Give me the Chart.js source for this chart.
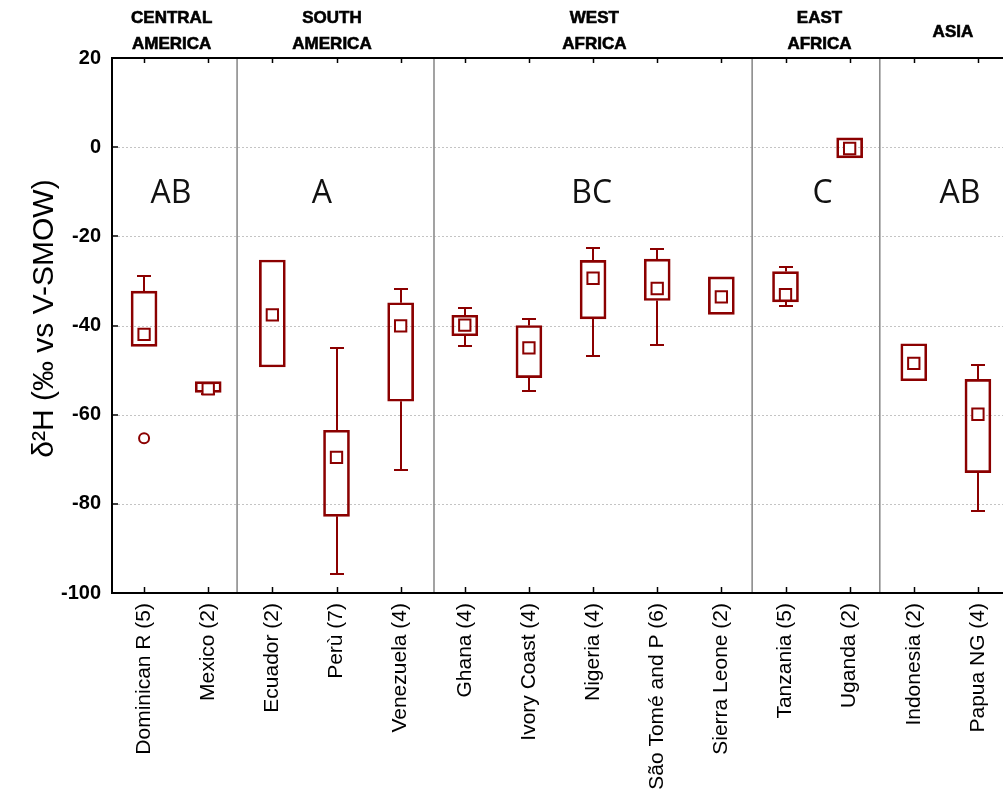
<!DOCTYPE html>
<html><head><meta charset="utf-8">
<script src="https://cdn.jsdelivr.net/npm/chart.js@4/dist/chart.umd.min.js"></script>
<style>html,body{margin:0;padding:0;background:#fff;overflow:hidden}#wrap{width:1022px;height:803px}</style>
</head><body><div id="wrap"><canvas id="c" width="1022" height="803"></canvas></div>
<script>
// ---- data ----
const categories = ['Dominican R (5)','Mexico (2)','Ecuador (2)','Perù (7)','Venezuela (4)','Ghana (4)','Ivory Coast (4)','Nigeria (4)','São Tomé and P (6)','Sierra Leone (2)','Tanzania (5)','Uganda (2)','Indonesia (2)','Papua NG (4)'];
const whiskerHigh = [-29.0, -52.6, -25.3, -45.1, -31.9, -36.1, -38.6, -22.6, -22.9, -29.1, -26.9, 2.1, -44.1, -48.9];
const q3          = [-32.3, -52.6, -25.3, -63.5, -34.9, -37.7, -40.0, -25.4, -25.1, -29.1, -27.9, 2.1, -44.1, -52.1];
const median      = [-42.0, -54.2, -37.6, -69.6, -40.1, -39.9, -45.0, -29.4, -31.7, -33.6, -33.1, -0.3, -48.5, -59.9];
const q1          = [-44.7, -55.0, -49.3, -82.8, -57.0, -42.3, -51.7, -38.5, -34.4, -37.5, -34.7, -2.4, -52.4, -73.0];
const whiskerLow  = [-44.7, -55.3, -49.3, -95.8, -72.5, -44.6, -54.8, -46.9, -44.4, -37.5, -35.6, -2.4, -52.4, -81.5];
const outliers    = [-65.3, null, null, null, null, null, null, null, null, null, null, null, null, null];
const yMin = -100, yMax = 20, yStep = 20;
const yTitle = 'δ²H (‰ vs V-SMOW)';
const groupNames = [['CENTRAL','AMERICA'], ['SOUTH','AMERICA'], ['WEST','AFRICA'], ['EAST','AFRICA'], ['ASIA']];
const groupCenters = [0.43, 2.93, 7.02, 10.53, 12.61];
const groupLetters = ['AB', 'A', 'BC', 'C', 'AB'];
const letterCenters = [0.42, 2.77, 6.98, 10.58, 12.72];
const letterLevel = -10.5;
const separators = [1.45, 4.52, 9.48, 11.47];

const RED = '#8B0000';
const FONT = '"Liberation Sans", Arial, sans-serif';

const extras = {
  id: 'boxExtras',
  beforeDatasetsDraw(chart) {
    const {ctx, chartArea: a, scales: {x, y}} = chart;
    ctx.save();
    // dotted grid
    ctx.strokeStyle = '#c4c4c4'; ctx.lineWidth = 1; ctx.setLineDash([2, 2]);
    y.ticks.forEach(t => {
      if (t.value <= y.min || t.value >= y.max) return;
      const py = Math.round(y.getPixelForValue(t.value)) + 0.5;
      ctx.beginPath(); ctx.moveTo(a.left + 6, py); ctx.lineTo(a.right, py); ctx.stroke();
    });
    ctx.setLineDash([]);
    // group separators
    ctx.strokeStyle = '#8c8c8c'; ctx.lineWidth = 1.6;
    separators.forEach(s => {
      const px = x.getPixelForValue(s);
      ctx.beginPath(); ctx.moveTo(px, a.top); ctx.lineTo(px, a.bottom); ctx.stroke();
    });
    // whiskers
    ctx.strokeStyle = RED; ctx.lineWidth = 2;
    categories.forEach((c, i) => {
      const px = Math.round(x.getPixelForValue(i));
      const segs = [[q3[i], whiskerHigh[i]], [q1[i], whiskerLow[i]]];
      segs.forEach(([b, w]) => {
        if (w == null || Math.abs(w - b) < 0.05) return;
        const pb = y.getPixelForValue(b), pw = Math.round(y.getPixelForValue(w));
        ctx.beginPath(); ctx.moveTo(px, pb); ctx.lineTo(px, pw); ctx.stroke();
        ctx.beginPath(); ctx.moveTo(px - 7, pw); ctx.lineTo(px + 7, pw); ctx.stroke();
      });
    });
    ctx.restore();
  },
  afterDraw(chart) {
    const {ctx, chartArea: a, scales: {x, y}} = chart;
    ctx.save();
    // frame
    ctx.strokeStyle = '#000'; ctx.lineWidth = 2;
    ctx.beginPath();
    ctx.moveTo(a.right + 5, a.top); ctx.lineTo(a.left, a.top); ctx.lineTo(a.left, a.bottom); ctx.lineTo(a.right + 5, a.bottom);
    ctx.stroke();
    // inside tick marks
    ctx.lineWidth = 1.5;
    y.ticks.forEach(t => {
      const py = Math.round(y.getPixelForValue(t.value));
      ctx.beginPath(); ctx.moveTo(a.left, py); ctx.lineTo(a.left + 6, py); ctx.stroke();
    });
    categories.forEach((c, i) => {
      const px = Math.round(x.getPixelForValue(i)) + 0.5;
      ctx.beginPath(); ctx.moveTo(px, a.top); ctx.lineTo(px, a.top + 5); ctx.stroke();
      ctx.beginPath(); ctx.moveTo(px, a.bottom); ctx.lineTo(px, a.bottom - 6); ctx.stroke();
    });
    // y-axis title
    ctx.save();
    ctx.translate(45, (a.top + a.bottom) / 2 - 7);
    ctx.rotate(-Math.PI / 2);
    ctx.font = '30px ' + FONT;
    ctx.fillStyle = '#000'; ctx.textAlign = 'center'; ctx.textBaseline = 'middle';
    ctx.fillText(yTitle, 0, 0);
    ctx.restore();
    // group headers
    ctx.fillStyle = '#000'; ctx.strokeStyle = '#000'; ctx.lineWidth = 0.6;
    ctx.font = 'bold 17px ' + FONT;
    ctx.textAlign = 'center'; ctx.textBaseline = 'middle';
    const hdr = (t, px, py) => { ctx.fillText(t, px, py); ctx.strokeText(t, px, py); };
    groupNames.forEach((lines, g) => {
      const px = x.getPixelForValue(groupCenters[g]);
      if (lines.length === 2) {
        hdr(lines[0], px, a.top - 39.5);
        hdr(lines[1], px, a.top - 13.5);
      } else {
        hdr(lines[0], px, a.top - 26);
      }
    });
    // significance letters
    ctx.font = '32px "Open Sans", sans-serif';
    ctx.fillStyle = '#111';
    groupLetters.forEach((t, g) => {
      ctx.fillText(t, x.getPixelForValue(letterCenters[g]), y.getPixelForValue(letterLevel));
    });
    ctx.restore();
  }
};

new Chart(document.getElementById('c'), {
  type: 'bar',
  data: {
    labels: categories,
    datasets: [
      {type: 'line', label: 'Median', data: median, showLine: false, pointStyle: 'rect',
       pointRadius: 8, pointHoverRadius: 8, pointBorderWidth: 2, pointBorderColor: RED, pointBackgroundColor: '#fff', order: 0},
      {type: 'line', label: 'Outliers', data: outliers, showLine: false, pointStyle: 'circle',
       pointRadius: 5, pointBorderWidth: 2, pointBorderColor: RED, pointBackgroundColor: '#fff', order: 1},
      {type: 'bar', label: '25%-75%', data: q1.map((v, i) => [v, q3[i]]), backgroundColor: 'rgba(0,0,0,0)',
       borderColor: RED, borderWidth: 2, borderSkipped: false, barThickness: 26, order: 2}
    ]
  },
  options: {
    responsive: false,
    animation: false,
    events: [],
    layout: {padding: {top: 58, right: 12, left: 0, bottom: 0}},
    plugins: {legend: {display: false}, tooltip: {enabled: false}},
    scales: {
      x: {
        offset: true,
        grid: {display: false, drawTicks: false},
        border: {display: false},
        ticks: {autoSkip: false, minRotation: 90, maxRotation: 90, padding: 10, color: '#000',
                font: {family: FONT, size: 21}},
        afterFit: s => { s.height = 210; }
      },
      y: {
        min: yMin, max: yMax,
        grid: {display: false, drawTicks: false},
        border: {display: false},
        ticks: {stepSize: yStep, padding: 11, color: '#000', font: {family: FONT, size: 20, weight: 'bold'}},
        title: {display: false},
        afterFit: s => { s.width = 112; }
      }
    }
  },
  plugins: [extras]
});
</script>
</body></html>
